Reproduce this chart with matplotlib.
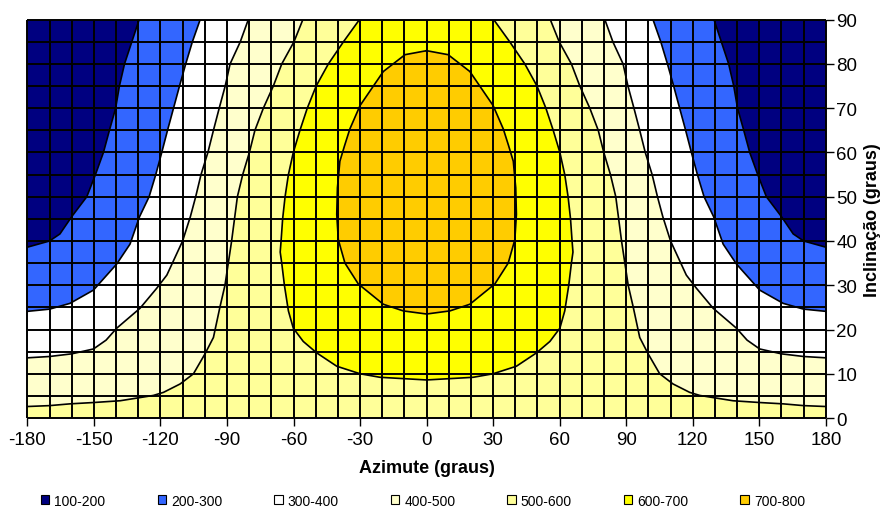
import matplotlib
matplotlib.use('Agg')
import matplotlib.pyplot as plt
from matplotlib.patches import Patch
import numpy as np

plt.rcParams['font.family'] = ['Liberation Sans', 'DejaVu Sans']

# class labels and colours (excel surface chart bands)
bands = ['100-200', '200-300', '300-400', '400-500', '500-600', '600-700', '700-800']
band_colors = ['#000080', '#3366FF', '#FFFFFF', '#FFFFCC', '#FFFF99', '#FFFF00', '#FFCC00']

# contour lines, left half only (azimuth <= 0), chart is symmetric
# open contours go from the left edge / bottom up to the top of the chart
c200_az = [-180, -170, -165.3, -160, -153.2, -149.3, -145.7, -143, -140.2, -138.5, -136.2, -132.9, -129.6]
c200_inc = [38.6, 40, 41.6, 45.5, 50, 55, 60, 65, 70, 75, 80, 85, 90]

c300_az = [-180, -170, -160.8, -150.2, -139.7, -133.7, -129.4, -125.1, -122.1, -119.4, -116.8, -114.1, -111.4, -108.6, -105.6, -102.1]
c300_inc = [24.1, 24.6, 25.9, 28.9, 34.8, 39.3, 45.5, 50, 55, 60, 65, 70, 75, 80, 85, 90]

c400_az = [-180, -170, -160, -150.2, -144.5, -139.7, -129.2, -121.7, -117.1, -110, -106.5, -104.1, -101.7, -98.6, -96.1, -93.5, -90.8, -88.6, -84, -80.4]
c400_inc = [13.6, 13.9, 14.5, 15.6, 17.6, 20.3, 24.8, 29.3, 32.3, 40, 45.5, 50, 55, 60, 65, 70, 75, 80, 85, 90]

c500_az = [-180, -170, -160.8, -150.2, -138.2, -123.2, -118.6, -111.1, -105.1, -99.9, -96.1, -93.2, -90.9, -89.4, -87.9, -86.6, -85.3, -82.9, -79.9, -77.4, -73.6, -69.1, -65.3, -59.8, -55.8]
c500_inc = [2.6, 2.8, 3.2, 3.5, 3.9, 5.1, 5.8, 7.7, 10, 14.5, 18.2, 25, 30, 35, 40, 45, 50, 55, 60, 65, 70, 75, 80, 85, 90]

# closed-ish contours: from the top (or apex) down to azimuth 0
c600_az = [-30.3, -37.5, -44.3, -49.8, -53.8, -57.1, -60.1, -62.3, -63.8, -64.9, -65.6, -66, -65.3, -64.1, -62.3, -60.1, -55.6, -49.5, -40.5, -30, -21, -10.5, 0]
c600_inc = [90, 85, 80, 75, 70, 65, 60, 55, 50, 45, 40, 37.5, 35, 30, 24.2, 20.3, 17.3, 14.7, 11.7, 10, 9.2, 8.9, 8.6]

c700_az = [0, -9.7, -19.5, -30, -34.6, -37, -39.1, -40.2, -40.5, -39.8, -36.8, -30.8, -19.5, -10.5, 0]
c700_inc = [83, 82.1, 78.3, 70.6, 65.3, 61.5, 58, 52, 46, 40.3, 35, 30.3, 25.7, 24.2, 23.5]

x_ticks = np.arange(-180, 181, 30)
y_ticks = np.arange(0, 91, 10)


def mirror(az, inc):
    """ left half curve -> full curve (left part then mirrored right part) """
    az = np.asarray(az, float)
    inc = np.asarray(inc, float)
    full_az = np.concatenate([az, -az[::-1]])
    full_inc = np.concatenate([inc, inc[::-1]])
    return full_az, full_inc


fig = plt.figure(figsize=(8.82, 5.10), dpi=100)
ax = fig.add_axes([0.031, 0.1784, 0.9053, 0.781])

# base band over the whole plot area
ax.fill([-180, 180, 180, -180], [0, 0, 90, 90], color=band_colors[0], lw=0, zorder=1)

# open contours: region above the level = below/inside the curves
open_curves = [(c200_az, c200_inc), (c300_az, c300_inc), (c400_az, c400_inc), (c500_az, c500_inc)]
for i, (az, inc) in enumerate(open_curves):
    f_az, f_inc = mirror(az, inc)
    px = np.concatenate([[-180], f_az, [180]])
    py = np.concatenate([[0], f_inc, [0]])
    ax.fill(px, py, color=band_colors[i + 1], lw=0, zorder=1)
    # left and right contour lines
    ax.plot(az, inc, color='black', lw=1.2, zorder=3, solid_joinstyle='round')
    ax.plot(-np.asarray(az), inc, color='black', lw=1.2, zorder=3, solid_joinstyle='round')

# inner contours
for i, (az, inc) in enumerate([(c600_az, c600_inc), (c700_az, c700_inc)]):
    f_az, f_inc = mirror(az, inc)
    ax.fill(f_az, f_inc, color=band_colors[i + 5], lw=0, zorder=1)
    ax.plot(f_az, f_inc, color='black', lw=1.2, zorder=3, solid_joinstyle='round')

# grid of the surface (every 10 deg azimuth, 5 deg inclination)
ax.vlines(np.arange(-180, 181, 10), 0, 90, color='black', lw=1.4, zorder=2, clip_on=False)
ax.hlines(np.arange(0, 91, 5), -180, 180, color='black', lw=1.4, zorder=2, clip_on=False)

ax.set_xlim(-180, 180)
ax.set_ylim(0, 90)
ax.set_xticks(x_ticks)
ax.set_xticklabels([str(v) for v in x_ticks])
ax.set_yticks(y_ticks)
ax.yaxis.tick_right()
ax.yaxis.set_label_position('right')
ax.tick_params(axis='both', direction='out', length=5.5, width=1, colors='black', labelsize=13.5)
ax.tick_params(axis='x', pad=4)
ax.tick_params(axis='y', pad=2)
for s in ax.spines.values():
    s.set_visible(False)

ax.set_xlabel('Azimute (graus)', fontsize=13, fontweight='bold', labelpad=8)
ax.set_ylabel('Inclinação (graus)', fontsize=13, fontweight='bold', labelpad=5, rotation=90)

handles = [Patch(facecolor=c, edgecolor='black', lw=0.8) for c in band_colors]
fig.legend(handles, bands, loc='center', bbox_to_anchor=(0.4796, 0.0163), ncol=7, frameon=False,
           fontsize=10, handlelength=0.6, handleheight=0.6, handletextpad=0.36, columnspacing=3.75)

fig.savefig('out.png', dpi=100)
